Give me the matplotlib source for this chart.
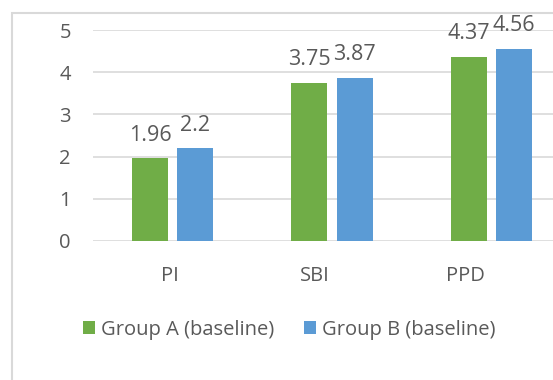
import matplotlib.pyplot as plt
import matplotlib.patches as mpatches
import numpy as np

categories = ['PI', 'SBI', 'PPD']
group_a = [1.96, 3.75, 4.37]
group_b = [2.2, 3.87, 4.56]
series_names = ['Group A (baseline)', 'Group B (baseline)']
colors = ['#70AD47', '#5B9BD5']
text_color = '#595959'
grid_color = '#D9D9D9'

plt.rcParams['font.family'] = ['Open Sans', 'DejaVu Sans']

fig = plt.figure(figsize=(5.53, 3.80), dpi=100)
ax = fig.add_axes([93 / 553, 139 / 380, 478 / 553, 211 / 380])

x = np.arange(len(categories))
off = 0.1415
w = 0.226
bars_a = ax.bar(x - off, group_a, w, color=colors[0], label=series_names[0], zorder=3)
bars_b = ax.bar(x + off, group_b, w, color=colors[1], label=series_names[1], zorder=3)

for bars, vals in ((bars_a, group_a), (bars_b, group_b)):
    for b, v in zip(bars, vals):
        ax.annotate(f'{v:g}', (b.get_x() + b.get_width() / 2, v),
                    xytext=(0, 9), textcoords='offset points',
                    ha='center', va='bottom', fontsize=15.5, color=text_color)

ax.set_xlim(-0.5, 2.5)
ax.set_ylim(0, 5)
ax.set_yticks(range(6))
ax.set_xticks([-0.02, 0.89, 1.84])
ax.set_xticklabels(categories)
ax.tick_params(length=0, labelsize=14.5, labelcolor=text_color)
ax.tick_params(axis='y', pad=16)
ax.tick_params(axis='x', pad=18)
ax.yaxis.grid(True, color=grid_color, lw=1.2, zorder=0)
for s in ax.spines.values():
    s.set_visible(False)

# outer chart frame (only left and top edges fall inside the figure)
fig.patches.append(mpatches.Rectangle((12 / 553, -0.1), 1.2, 1 - 13 / 380 + 0.1,
                                      transform=fig.transFigure, fill=False,
                                      ec=grid_color, lw=1.5))

fig.legend(loc='center', bbox_to_anchor=(0.523, 0.132), ncol=2, frameon=False,
           fontsize=14.5, labelcolor=text_color, handlelength=0.6, handleheight=0.6,
           handletextpad=0.3, columnspacing=1.5)

fig.savefig('out.png', dpi=100)
